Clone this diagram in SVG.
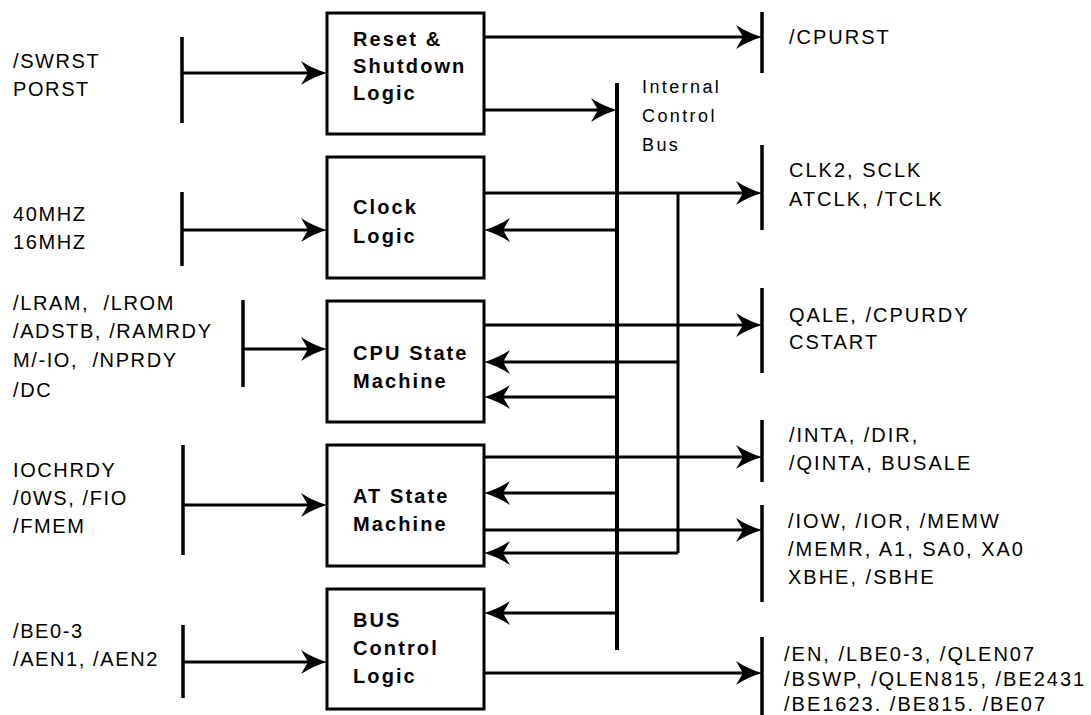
<svg xmlns="http://www.w3.org/2000/svg" width="1091" height="715" viewBox="0 0 1091 715">
<defs>
<style>
.box{fill:#fff;stroke:#000;stroke-width:3}
.bt{font-family:"Liberation Sans",Arial,sans-serif;font-weight:bold;font-size:20px;letter-spacing:2.1px;fill:#000}
.lt{font-family:"Liberation Sans",Arial,sans-serif;font-size:20px;letter-spacing:1.6px;fill:#000}
.rt{font-family:"Liberation Sans",Arial,sans-serif;font-size:20px;letter-spacing:2px;fill:#000}
.it{font-family:"Liberation Sans",Arial,sans-serif;font-size:18px;letter-spacing:2.4px;fill:#000}
.bar{stroke:#000;stroke-width:3.5;fill:none}
.ln{stroke:#000;stroke-width:3;fill:none}
.arr{stroke:#000;stroke-width:3;fill:none;marker-end:url(#ah)}
</style>
<marker id="ah" viewBox="0 0 26 24" refX="20" refY="12" markerWidth="26" markerHeight="24" markerUnits="userSpaceOnUse" orient="auto">
<path d="M26,12 Q12,8 0,0 L7,12 L0,24 Q12,16 26,12 Z" fill="#000"/>
</marker>
</defs>
<rect width="1091" height="715" fill="#fff"/>

<g id="reset-logic">
<rect class="box" x="327" y="13" width="157" height="121"/>
<text class="bt" x="353" y="46">Reset &amp;</text>
<text class="bt" x="353" y="73">Shutdown</text>
<text class="bt" x="353" y="100">Logic</text>
</g>
<g id="clock-logic">
<rect class="box" x="327" y="157" width="157" height="121"/>
<text class="bt" x="353" y="214">Clock</text>
<text class="bt" x="353" y="243">Logic</text>
</g>
<g id="cpu-state-machine">
<rect class="box" x="327" y="301" width="157" height="121"/>
<text class="bt" x="353" y="360">CPU State</text>
<text class="bt" x="353" y="388">Machine</text>
</g>
<g id="at-state-machine">
<rect class="box" x="327" y="445" width="157" height="121"/>
<text class="bt" x="353" y="503">AT State</text>
<text class="bt" x="353" y="531">Machine</text>
</g>
<g id="bus-control-logic">
<rect class="box" x="327" y="589" width="157" height="120"/>
<text class="bt" x="353" y="627">BUS</text>
<text class="bt" x="353" y="655">Control</text>
<text class="bt" x="353" y="683">Logic</text>
</g>

<g id="internal-control-bus">
<line x1="617" y1="83" x2="617" y2="650" stroke="#000" stroke-width="4"/>
<text class="it" x="642" y="93">Internal</text>
<text class="it" x="642" y="122">Control</text>
<text class="it" x="642" y="151">Bus</text>
</g>

<g id="in-reset">
<line class="bar" x1="182" y1="37" x2="182" y2="123"/>
<text class="lt" x="13" y="68">/SWRST</text>
<text class="lt" x="13" y="96">PORST</text>
</g>
<g id="in-clock">
<line class="bar" x1="182" y1="192" x2="182" y2="266"/>
<text class="lt" x="13" y="221">40MHZ</text>
<text class="lt" x="13" y="249">16MHZ</text>
</g>
<g id="in-cpu">
<line class="bar" x1="243" y1="300" x2="243" y2="387"/>
<text class="lt" x="13" y="310" xml:space="preserve">/LRAM,  /LROM</text>
<text class="lt" x="13" y="338">/ADSTB, /RAMRDY</text>
<text class="lt" x="13" y="367" xml:space="preserve">M/-IO,  /NPRDY</text>
<text class="lt" x="13" y="397">/DC</text>
</g>
<g id="in-at">
<line class="bar" x1="183" y1="445" x2="183" y2="555"/>
<text class="lt" x="13" y="477">IOCHRDY</text>
<text class="lt" x="13" y="505">/0WS, /FIO</text>
<text class="lt" x="13" y="533">/FMEM</text>
</g>
<g id="in-bus">
<line class="bar" x1="183" y1="625" x2="183" y2="698"/>
<text class="lt" x="13" y="638">/BE0-3</text>
<text class="lt" x="13" y="666">/AEN1, /AEN2</text>
</g>

<g id="out-cpurst">
<line class="bar" x1="762" y1="12" x2="762" y2="73"/>
<text class="rt" x="789" y="44">/CPURST</text>
</g>
<g id="out-clk">
<line class="bar" x1="762" y1="145" x2="762" y2="230"/>
<text class="rt" x="789" y="177">CLK2, SCLK</text>
<text class="rt" x="789" y="206">ATCLK, /TCLK</text>
</g>
<g id="out-qale">
<line class="bar" x1="762" y1="288" x2="762" y2="373"/>
<text class="rt" x="789" y="322">QALE, /CPURDY</text>
<text class="rt" x="789" y="349">CSTART</text>
</g>
<g id="out-inta">
<line class="bar" x1="762" y1="420" x2="762" y2="482"/>
<text class="rt" x="789" y="442">/INTA, /DIR,</text>
<text class="rt" x="789" y="470">/QINTA, BUSALE</text>
</g>
<g id="out-iow">
<line class="bar" x1="762" y1="505" x2="762" y2="602"/>
<text class="rt" x="788" y="528">/IOW, /IOR, /MEMW</text>
<text class="rt" x="788" y="556">/MEMR, A1, SA0, XA0</text>
<text class="rt" x="788" y="584">XBHE, /SBHE</text>
</g>
<g id="out-en">
<line class="bar" x1="762" y1="637" x2="762" y2="715"/>
<text class="rt" x="784" y="661">/EN, /LBE0-3, /QLEN07</text>
<text class="rt" x="784" y="686">/BSWP, /QLEN815, /BE2431</text>
<text class="rt" x="784" y="711">/BE1623. /BE815. /BE07</text>
</g>

<g id="connectors">
<line class="arr" x1="182" y1="73" x2="321" y2="73"/>
<line class="arr" x1="182" y1="230" x2="321" y2="230"/>
<line class="arr" x1="243" y1="349" x2="321" y2="349"/>
<line class="arr" x1="183" y1="505" x2="321" y2="505"/>
<line class="arr" x1="183" y1="662" x2="321" y2="662"/>

<line class="arr" x1="484" y1="37" x2="756" y2="37"/>
<line class="arr" x1="484" y1="110" x2="611" y2="110"/>
<line class="arr" x1="484" y1="193" x2="756" y2="193"/>
<line class="ln" x1="678" y1="193" x2="678" y2="553"/>
<line class="arr" x1="617" y1="230" x2="490" y2="230"/>

<line class="arr" x1="484" y1="325" x2="756" y2="325"/>
<line class="arr" x1="678" y1="362" x2="490" y2="362"/>
<line class="arr" x1="617" y1="397" x2="490" y2="397"/>

<line class="arr" x1="484" y1="457" x2="756" y2="457"/>
<line class="arr" x1="617" y1="493" x2="490" y2="493"/>
<line class="arr" x1="484" y1="530" x2="756" y2="530"/>
<line class="arr" x1="678" y1="553" x2="490" y2="553"/>

<line class="arr" x1="617" y1="613" x2="490" y2="613"/>
<line class="arr" x1="484" y1="673" x2="756" y2="673"/>
</g>
</svg>
